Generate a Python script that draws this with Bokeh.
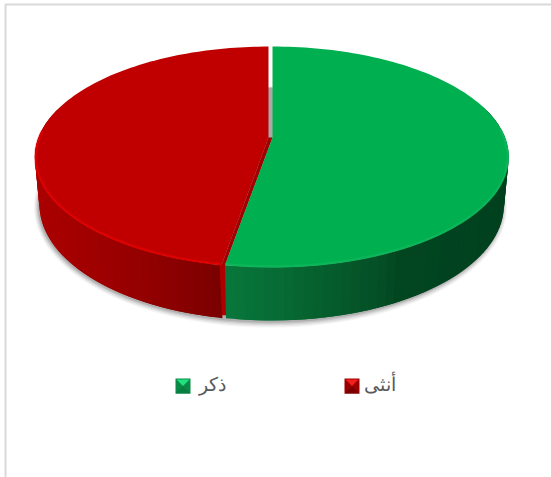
import math
from bokeh.embed import file_html
from bokeh.models import Range1d
from bokeh.plotting import figure
from bokeh.resources import INLINE

# Pie content
categories = ["ذكر", "أنثى"]
shares = [52.7, 47.3]

# Perspective disc geometry (pixels)
K = 0.1765
TOP_Y, TOP_B = 137.0, 107.0
BASE_Y, BASE_B = 184.0, 112.0
GREEN_X, RED_X = 272.0, 268.0
GREEN_A, RED_A = 232.5, 230.0
BASE_SCALE = 0.98

GREEN_TOP, RED_TOP = "#00b050", "#c00000"
RED_CUT = "#a00000"
GREY_TEXT = "#595959"
GREEN_STOPS = [(224, "#08773b"), (262, "#076f37"), (300, "#066531"), (350, "#05572a"),
               (385, "#034d25"), (400, "#024620"), (450, "#014320"), (510, "#00401e")]
RED_STOPS = [(34, "#aa0000"), (90, "#a00000"), (140, "#940000"), (180, "#880000"), (224, "#780000")]


def mix(stops, x):
    def rgb(h):
        return [int(h[i:i + 2], 16) for i in (1, 3, 5)]
    if x <= stops[0][0]:
        return stops[0][1]
    for (x0, c0), (x1, c1) in zip(stops, stops[1:]):
        if x <= x1:
            t = (x - x0) / (x1 - x0)
            return "#%02x%02x%02x" % tuple(round(a + (b - a) * t) for a, b in zip(rgb(c0), rgb(c1)))
    return stops[-1][1]


def project(theta, cx, a, apex_y, b):
    """Clockwise angle from twelve o'clock to a screen point on the perspective disc."""
    u, v = math.sin(theta), -math.cos(theta)
    d = 1 - K * v
    return cx + a * u / d, apex_y + b * v / d


def arc(t0, t1, cx, a, apex_y, b, n=120):
    pts = [project(t0 + (t1 - t0) * i / n, cx, a, apex_y, b) for i in range(n + 1)]
    return [q[0] for q in pts], [q[1] for q in pts]


split = 2 * math.pi * shares[0] / sum(shares)
full = 2 * math.pi

p = figure(width=551, height=477, output_backend="svg", toolbar_location=None,
           x_range=Range1d(0, 551), y_range=Range1d(477, 0), min_border=0,
           background_fill_color="white", border_fill_color="white", outline_line_color=None)
p.axis.visible = False
p.grid.visible = False

# Chart frame
p.line([5, 5, 551], [477, 4, 4], line_color="#d9d9d9", line_width=2)

# Soft shadow beneath the disc
for grow, alpha in [(5, 0.05), (4, 0.07), (3, 0.09), (2, 0.12), (1, 0.16)]:
    xs, ys = arc(0, full, 270.0, GREEN_A * BASE_SCALE + grow, BASE_Y + 1, BASE_B + grow, n=180)
    p.patch(xs, ys, fill_color="#404040", fill_alpha=alpha, line_color=None)


def side(t0, t1, cx, a, stops, forward=True):
    """Rim wall as overlapping bands, so no seams show between neighbours."""
    n = max(4, int((t1 - t0) / math.radians(2)))
    step = (t1 - t0) / n
    order = range(n) if forward else range(n - 1, -1, -1)
    for i in order:
        ta, tb = t0 + step * i, t0 + step * (i + 1)
        if -math.cos((ta + tb) / 2) < -0.25:
            continue
        ea, eb = (ta, tb + step) if forward else (ta - step, tb)
        ea, eb = max(ea, t0), min(eb, t1)
        x0, y0 = project(ea, cx, a, TOP_Y, TOP_B)
        x1, y1 = project(eb, cx, a, TOP_Y, TOP_B)
        x2, y2 = project(eb, cx, a * BASE_SCALE, BASE_Y, BASE_B)
        x3, y3 = project(ea, cx, a * BASE_SCALE, BASE_Y, BASE_B)
        mx, _ = project((ta + tb) / 2, cx, a, TOP_Y, TOP_B)
        p.patch([x0, x1, x2, x3], [y0, y1, y2, y3], fill_color=mix(stops, mx), line_color=None)


# Rim walls
side(split, full, RED_X, RED_A, RED_STOPS)
rx, ry = project(split, RED_X, RED_A, TOP_Y, TOP_B)
gx, gy = project(split, GREEN_X, GREEN_A, TOP_Y, TOP_B)
bx, by = project(split, GREEN_X, GREEN_A * BASE_SCALE, BASE_Y, BASE_B)
p.patch([rx - 2, gx + 1, bx + 1, bx - 4], [ry - 2, gy, by - 3, by - 3], fill_color="#ae0000", line_color=None)
side(0, split, GREEN_X, GREEN_A, GREEN_STOPS, forward=False)

# Inner wall seen through the gap between the slices
p.patch([RED_X, GREEN_X, GREEN_X, RED_X], [87, 87, TOP_Y + 2, TOP_Y + 2], fill_color="#a9a9a9", line_color=None)

# Top faces with a soft bright lip along the front edge
xs, ys = arc(split, full, RED_X, RED_A, TOP_Y, TOP_B)
p.patch(xs + [RED_X], ys + [TOP_Y], fill_color=RED_TOP, line_color=None)
p.patch([RED_X, GREEN_X, gx, rx], [TOP_Y, TOP_Y, gy, ry], fill_color=RED_CUT, line_color=None)
xs, ys = arc(0, split, GREEN_X, GREEN_A, TOP_Y, TOP_B)
p.patch(xs + [GREEN_X], ys + [TOP_Y], fill_color=GREEN_TOP, line_color=None)

xs, ys = arc(split, full * 0.76, RED_X, RED_A - 0.8, TOP_Y, TOP_B - 0.8)
p.line(xs, ys, line_color="#f00000", line_width=3.2, line_alpha=0.3)
p.line(xs, ys, line_color="#ee0000", line_width=1.2, line_alpha=0.7)
xs, ys = arc(split * 0.45, split, GREEN_X, GREEN_A - 0.8, TOP_Y, TOP_B - 0.8)
p.line(xs, ys, line_color="#20c468", line_width=2.6, line_alpha=0.35)

# Legend
for name, x0, light, mid, dark, text_x in [
    (categories[0], 175, "#22e07e", "#0b8a47", "#0a7d40", 225),
    (categories[1], 344, "#f42020", "#9a0000", "#7d0000", 395),
]:
    y0, s, c = 378, 15, 7.5
    p.quad(left=[x0], right=[x0 + s], top=[y0], bottom=[y0 + s], fill_color=mid, line_color=None)
    p.patch([x0 + 1, x0 + s - 1, x0 + c], [y0 + 1, y0 + 1, y0 + c], fill_color=light, line_color=None)
    p.patch([x0, x0 + s, x0 + c], [y0 + s, y0 + s, y0 + c], fill_color=dark, line_color=None)
    p.text(x=[text_x], y=[384], text=[name], text_color=GREY_TEXT, text_font_size="19px",
           text_align="right", text_baseline="middle")

open("out.html", "w").write(file_html(p, INLINE))
